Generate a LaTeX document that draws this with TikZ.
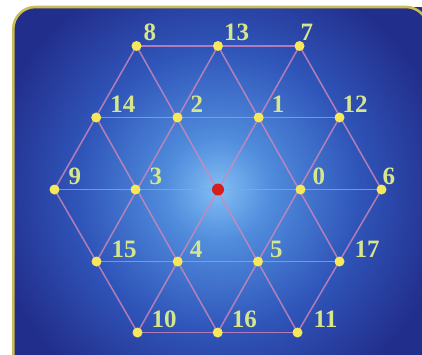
\documentclass[tikz,border=0pt]{standalone}
\usepackage{fontspec}
\setmainfont{Liberation Serif}
\definecolor{glowA}{RGB}{130,190,244}
\definecolor{glowB}{RGB}{80,140,220}
\definecolor{glowC}{RGB}{48,86,186}
\definecolor{glowD}{RGB}{34,46,140}
\definecolor{framegold}{RGB}{204,188,84}
\definecolor{edgecol}{RGB}{210,135,185}
\definecolor{dotyellow}{RGB}{246,232,90}
\definecolor{dotred}{RGB}{215,30,30}
\definecolor{labcol}{RGB}{214,230,140}
\pgfdeclareradialshading{glow}{\pgfpoint{0bp}{0bp}}{color(0bp)=(glowA); color(4bp)=(glowB); color(10.5bp)=(glowC); color(17.5bp)=(glowD); color(50bp)=(glowD)}
\tikzset{
  ydot/.style={circle, fill=dotyellow, inner sep=0pt, minimum size=10pt},
  rdot/.style={circle, fill=dotred, inner sep=0pt, minimum size=12pt},
  lattice/.style={draw=edgecol, line width=1.5pt, opacity=0.8},
  lab/.style={anchor=base west, inner sep=0pt, text=labcol, font=\fontsize{25}{25}\selectfont\bfseries}
}
\begin{document}
\begin{tikzpicture}[x=1pt,y=-1pt]
\useasboundingbox (0,0) rectangle (422,354);
% background panel
\begin{scope}
  \clip[rounded corners=22pt] (13.3,7) rectangle (440,390);
  \fill[glowD] (0,0) rectangle (440,390);
  \shade[shading=glow] (218,189.5) circle (330pt);
\end{scope}
\draw[framegold, line width=2.6pt, rounded corners=22pt] (13.3,7) rectangle (428,390);
% lattice points
\coordinate (c8)  at (136.5,46);
\coordinate (c13) at (218,46);
\coordinate (c7)  at (299.5,46);
\coordinate (c14) at (96.2,117.5);
\coordinate (c2)  at (177.5,117.5);
\coordinate (c1)  at (258.7,117.5);
\coordinate (c12) at (339.5,117.5);
\coordinate (c9)  at (54.5,189.5);
\coordinate (c3)  at (135.5,189.5);
\coordinate (cc)  at (218,189.5);
\coordinate (c0)  at (300.5,189.5);
\coordinate (c6)  at (381.5,189.5);
\coordinate (c15) at (96.5,261.5);
\coordinate (c4)  at (177.7,261.5);
\coordinate (c5)  at (258,261.5);
\coordinate (c17) at (339.5,261.5);
\coordinate (c10) at (137.5,332.5);
\coordinate (c16) at (217.7,332.5);
\coordinate (c11) at (297.5,332.5);
% lines
\draw[lattice] (c8) -- (c7);
\draw[lattice] (c14) -- (c12);
\draw[lattice] (c9) -- (c6);
\draw[lattice] (c15) -- (c17);
\draw[lattice] (c10) -- (c11);
\draw[lattice] (c9) -- (c10);
\draw[lattice] (c14) -- (c16);
\draw[lattice] (c8) -- (c11);
\draw[lattice] (c13) -- (c17);
\draw[lattice] (c7) -- (c6);
\draw[lattice] (c8) -- (c9);
\draw[lattice] (c13) -- (c15);
\draw[lattice] (c7) -- (c10);
\draw[lattice] (c12) -- (c16);
\draw[lattice] (c6) -- (c11);
% dots
\foreach \n in {8,13,7,14,2,1,12,9,3,0,6,15,4,5,17,10,16,11}
  \node[ydot] (p\n) at (c\n) {};
\node[rdot] (pc) at (cc) {};
% labels
\node[lab] (l8)  at ([xshift=7pt,yshift=6pt]c8)  {8};
\node[lab] (l13) at ([xshift=6pt,yshift=6pt]c13) {13};
\node[lab] (l7)  at ([xshift=1pt,yshift=6pt]c7)  {7};
\node[lab] (l14) at ([xshift=14pt,yshift=5pt]c14) {14};
\node[lab] (l2)  at ([xshift=13pt,yshift=5pt]c2)  {2};
\node[lab] (l1)  at ([xshift=13pt,yshift=5pt]c1)  {1};
\node[lab] (l12) at ([xshift=3pt,yshift=5pt]c12) {12};
\node[lab] (l9)  at ([xshift=14pt,yshift=5pt]c9)  {9};
\node[lab] (l3)  at ([xshift=14pt,yshift=5pt]c3)  {3};
\node[lab] (l0)  at ([xshift=12pt,yshift=5pt]c0)  {0};
\node[lab] (l6)  at ([xshift=1pt,yshift=5pt]c6)  {6};
\node[lab] (l15) at ([xshift=15pt,yshift=4pt]c15) {15};
\node[lab] (l4)  at ([xshift=12pt,yshift=4pt]c4)  {4};
\node[lab] (l5)  at ([xshift=12pt,yshift=4pt]c5)  {5};
\node[lab] (l17) at ([xshift=15pt,yshift=4pt]c17) {17};
\node[lab] (l10) at ([xshift=14pt,yshift=5pt]c10) {10};
\node[lab] (l16) at ([xshift=14pt,yshift=5pt]c16) {16};
\node[lab] (l11) at ([xshift=16pt,yshift=5pt]c11) {11};
\end{tikzpicture}
\end{document}
